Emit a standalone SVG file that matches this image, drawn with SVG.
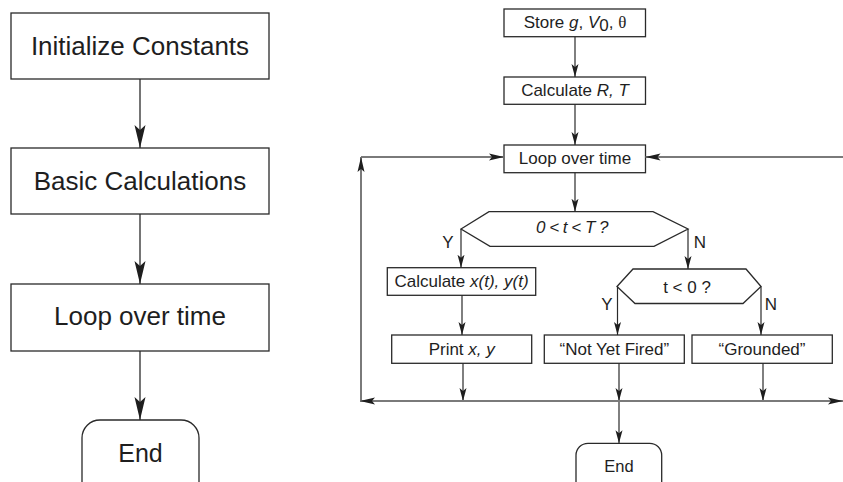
<svg xmlns="http://www.w3.org/2000/svg" width="843" height="482" viewBox="0 0 843 482">
<style>
  .box{fill:#fff;stroke:#2a2a2a;stroke-width:1.3}
  .t{font-family:"Liberation Sans",Arial,sans-serif;fill:#1e1e1e;text-anchor:middle}
  .big{font-size:26px}
  .sm{font-size:17px}
  .lbl{font-size:17px;text-anchor:middle}
  .conL{stroke:#2a2a2a;stroke-width:1.3;fill:none;marker-end:url(#ahL)}
  .con{stroke:#2a2a2a;stroke-width:1.2;fill:none;marker-end:url(#ahS)}
  .loop{stroke:#7a7a7a;stroke-width:2;fill:none}
  .i{font-style:italic}
</style>
<defs>
  <marker id="ahL" markerUnits="userSpaceOnUse" markerWidth="24" markerHeight="12" viewBox="0 0 24 12" refX="23" refY="6" orient="auto">
    <path d="M0,0.5 L23,6 L0,11.5 L5,6 z" fill="#1e1e1e"/>
  </marker>
  <marker id="ahS" markerUnits="userSpaceOnUse" markerWidth="14" markerHeight="8" viewBox="0 0 14 8" refX="13" refY="4" orient="auto">
    <path d="M0,0.5 L13,4 L0,7.5 L3,4 z" fill="#1e1e1e"/>
  </marker>
  <marker id="ahP" markerUnits="userSpaceOnUse" markerWidth="16" markerHeight="8" viewBox="0 0 16 8" refX="15" refY="4" orient="auto-start-reverse">
    <path d="M0,0.5 L15,4 L0,7.5 L3,4 z" fill="#1e1e1e"/>
  </marker>
</defs>

<!-- Left flowchart -->
<g id="left-init"><rect class="box" x="11" y="13" width="258" height="66"/><text class="t big" x="140" y="55">Initialize Constants</text></g>
<g id="left-basic"><rect class="box" x="11" y="148" width="258" height="66"/><text class="t big" x="140" y="190">Basic Calculations</text></g>
<g id="left-loop"><rect class="box" x="11" y="284" width="258" height="67"/><text class="t big" x="140" y="325">Loop over time</text></g>
<g id="left-end"><rect class="box" x="82" y="420" width="117" height="90" rx="18"/><text class="t" style="font-size:25px" x="140.5" y="462">End</text></g>

<!-- Right flowchart nodes -->
<g id="store"><rect class="box" x="504" y="9" width="141.5" height="27.7"/>
  <text class="t sm" x="575" y="28">Store <tspan class="i">g</tspan>, <tspan class="i">V</tspan><tspan dy="3">0</tspan><tspan dy="-3">, </tspan><tspan style="font-family:'Liberation Serif',serif">θ</tspan></text></g>
<g id="calcRT"><rect class="box" x="504" y="77" width="141.5" height="27.3"/><text class="t sm" x="575" y="96">Calculate <tspan class="i">R, T</tspan></text></g>
<g id="loop"><rect class="box" x="504" y="145" width="141.5" height="27.7"/><text class="t sm" x="575" y="164">Loop over time</text></g>
<g id="dec1"><polygon class="box" points="461,229 489,211.7 653,211.7 688,229 654,246.3 490,246.3"/><text class="t sm i" x="572" y="233" style="letter-spacing:-0.5px">0 &lt; t &lt; T ?</text></g>
<g id="calcXY"><rect class="box" x="387.3" y="267.7" width="148.4" height="27.6"/><text class="t sm" x="461.5" y="287">Calculate <tspan class="i">x(t), y(t)</tspan></text></g>
<g id="dec2"><polygon class="box" points="617,286.5 633,269 746,269 761,286.5 743,303.5 635,303.5"/><text class="t sm" x="687" y="293">t &lt; 0 ?</text></g>
<g id="print"><rect class="box" x="391.7" y="335" width="140" height="28.3"/><text class="t sm" x="461.7" y="355">Print <tspan class="i">x, y</tspan></text></g>
<g id="notfired"><rect class="box" x="544.3" y="335" width="140" height="28.3"/><text class="t sm" x="614.3" y="355">“Not Yet Fired”</text></g>
<g id="grounded"><rect class="box" x="692" y="335" width="140.3" height="28.3"/><text class="t sm" x="762" y="355">“Grounded”</text></g>
<g id="end"><rect class="box" x="576" y="443.3" width="85.7" height="60" rx="12"/><text class="t" style="font-size:16.5px" x="619" y="472">End</text></g>

<!-- Connectors -->
<g id="connectors">
  <line class="conL" x1="140" y1="79" x2="140" y2="148"/>
  <line class="conL" x1="140" y1="214" x2="140" y2="284"/>
  <line class="conL" x1="140" y1="351" x2="140" y2="420"/>

  <line class="con" x1="575" y1="36.7" x2="575" y2="77"/>
  <line class="con" x1="575" y1="104.3" x2="575" y2="145"/>
  <line class="con" x1="575" y1="172.7" x2="575" y2="211.7"/>
  <line class="con" x1="461" y1="229" x2="461" y2="267.7"/>
  <line class="con" x1="688" y1="229" x2="688" y2="269"/>
  <line class="con" x1="462" y1="295.3" x2="462" y2="335"/>
  <line class="con" x1="617.5" y1="286.5" x2="617.5" y2="335"/>
  <line class="con" x1="761" y1="286.5" x2="761" y2="335"/>
  <line class="con" x1="463" y1="363.3" x2="463" y2="401"/>
  <line class="con" x1="619" y1="363.3" x2="619" y2="401"/>
  <line class="con" x1="763" y1="363.3" x2="763" y2="401"/>
  <line class="con" x1="619" y1="401" x2="619" y2="443.3"/>

  <line class="loop" x1="361" y1="157" x2="504" y2="157" marker-end="url(#ahP)"/>
  <line class="loop" x1="843" y1="157" x2="645.5" y2="157" marker-end="url(#ahP)"/>
  <line class="loop" x1="361" y1="401" x2="361" y2="157" marker-end="url(#ahP)"/>
  <line class="loop" x1="360" y1="401" x2="843" y2="401" marker-start="url(#ahP)" marker-end="url(#ahP)"/>

  <text class="t lbl" x="448" y="248">Y</text>
  <text class="t lbl" x="700" y="248">N</text>
  <text class="t lbl" x="607" y="310">Y</text>
  <text class="t lbl" x="771" y="310">N</text>
</g>
</svg>
